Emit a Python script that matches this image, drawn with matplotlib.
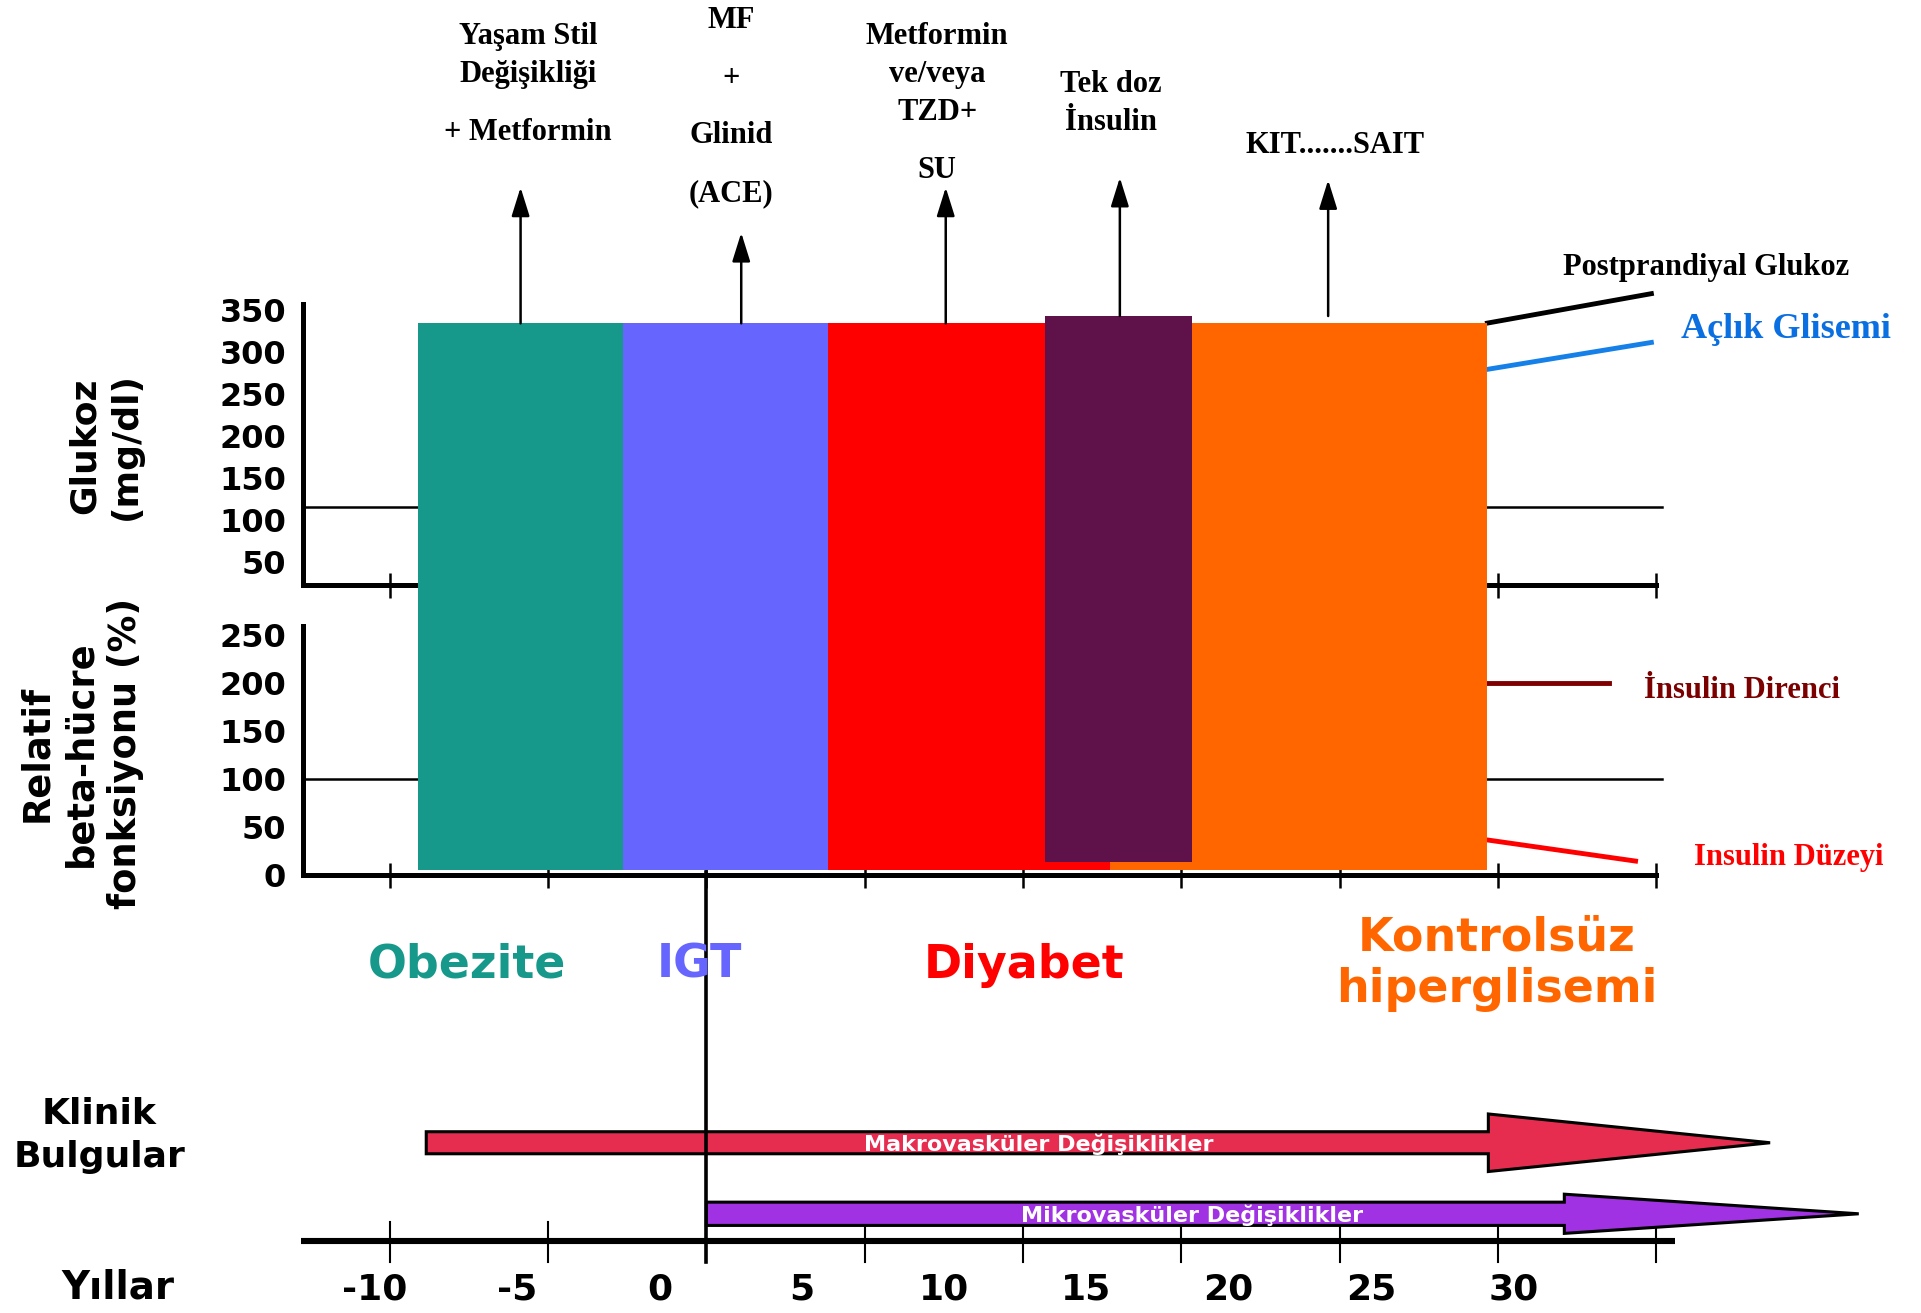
import matplotlib.pyplot as plt
from matplotlib.patches import FancyArrow

# ---- data (years on the time axis, values in panel units) ----
years = [-10, -5, 0, 5, 10, 15, 20, 25, 30]
year_labels = ["-10", "-5", "0", "5", "10", "15", "20", "25", "30"]
glucose_ticks = [50, 100, 150, 200, 250, 300, 350]
beta_ticks = [0, 50, 100, 150, 200, 250]

phase_labels = ["Obezite", "IGT", "Diyabet", "Kontrolsüz\nhiperglisemi"]
phase_colors = ["#16998A", "#6666FF", "#FF0000", "#FF6600"]
phase_start = [-9.1, -2.65, 3.85, 12.75]
phase_end = [-2.65, 3.85, 12.75, 24.67]
insulin_start, insulin_end = 10.7, 15.34
insulin_color = "#5E1249"

therapy_years = [-5.87, 1.10, 7.56, 13.06, 19.64]

ppg_years, ppg_values = [24.67, 29.85], [334, 369]
fpg_years, fpg_values = [24.67, 29.85], [279, 311]
ir_years, ir_values = [24.67, 28.5], [200, 200]
ins_years, ins_values = [24.67, 29.35], [36, 14]
normal_glucose = 115
normal_beta = 100

macro_start, macro_end = -8.85, 33.6
micro_start, micro_end = 0, 36.4
diagnosis_year = 0

# ---- layout helpers (layout units = 1568 x 1072 canvas) ----
W, H = 1568, 1072
YEAR10_PX, PX_PER_YEAR = 835, 25.84
LABEL10_PX, LABEL_PX_PER_YEAR = 770.6, 23.23


def fx(px):
    return px / W


def fy(py):
    return 1 - py / H


def year_px(yr):
    return YEAR10_PX + (yr - 10) * PX_PER_YEAR


SANS = "DejaVu Sans"
SERIF = "Liberation Serif"

fig = plt.figure(figsize=(19.21, 13.13), dpi=100)

PX0, PX1 = -12.75, 30.0


def panel(top, bottom, ylim, ticks, hline):
    a = fig.add_axes([fx(year_px(PX0)), fy(bottom),
                      fx(year_px(PX1)) - fx(year_px(PX0)), fy(top) - fy(bottom)])
    a.set_xlim(PX0, PX1)
    a.set_ylim(*ylim)
    a.patch.set_alpha(0)
    for s in ["top", "right"]:
        a.spines[s].set_visible(False)
    for s in ["left", "bottom"]:
        a.spines[s].set_linewidth(3.6)
    a.set_yticks(ticks)
    a.set_yticklabels([str(t) for t in ticks], fontsize=23,
                      fontweight="bold", family=SANS)
    a.tick_params(axis="y", length=0, pad=12)
    a.set_xticks(years)
    a.set_xticklabels([])
    a.tick_params(axis="x", direction="inout", length=18, width=1.8)
    a.plot([PX0, 30.2], [hline, hline], color="black", lw=1.8, clip_on=False)
    return a


ax_g = panel(248, 478, (22, 357), glucose_ticks, normal_glucose)
ax_g.plot(ppg_years, ppg_values, color="black", lw=3.5, clip_on=False)
ax_g.plot(fpg_years, fpg_values, color="#1580E8", lw=3.5, clip_on=False)

ax_b = panel(511, 714, (0, 259), beta_ticks, normal_beta)
ax_b.plot(ir_years, ir_values, color="#7F0000", lw=3.5, clip_on=False)
ax_b.plot(ins_years, ins_values, color="#FF0000", lw=3.5, clip_on=False)

# ---- main overlay axes: x in years, y in layout units ----
ax = fig.add_axes([0, 0, 1, 1])
ax.set_xlim((0 - YEAR10_PX) / PX_PER_YEAR + 10, (W - YEAR10_PX) / PX_PER_YEAR + 10)
ax.set_ylim(H, 0)
ax.patch.set_alpha(0)
ax.axis("off")

for s, e, c in zip(phase_start, phase_end, phase_colors):
    ax.bar(s, 446, width=e - s, bottom=264, align="edge", color=c, lw=0)
ax.bar(insulin_start, 446, width=insulin_end - insulin_start, bottom=258,
       align="edge", color=insulin_color, lw=0)

# therapy arrows
arrow_tops = [153, 190, 153, 145, 147]
arrow_bottoms = [264, 264, 264, 258, 258]
for yr, t, b in zip(therapy_years, arrow_tops, arrow_bottoms):
    ax.annotate("", xy=(yr, t), xytext=(yr, b),
                arrowprops=dict(arrowstyle="-|>,head_length=0.8,head_width=0.25",
                                lw=1.8, color="black", shrinkA=0, shrinkB=0,
                                mutation_scale=22))

therapy_lines = [
    [("Yaşam Stil", 431, 30), ("Değişikliği", 431, 61), ("+ Metformin", 431, 108)],
    [("MF", 597, 17), ("+", 597, 64), ("Glinid", 597, 111), ("(ACE)", 597, 158)],
    [("Metformin", 765, 30), ("ve/veya", 765, 61), ("TZD+", 765, 92), ("SU", 765, 139)],
    [("Tek doz", 907, 69), ("İnsulin", 907, 100)],
    [("KIT.......SAIT", 1090, 119)],
]
for group in therapy_lines:
    for txt, x, y in group:
        fig.text(fx(x), fy(y), txt, ha="center", va="center", fontsize=22,
                 fontweight="bold", family=SERIF)

# right-hand legend texts
fig.text(fx(1276), fy(218), "Postprandiyal Glukoz", ha="left", va="center",
         fontsize=22, fontweight="bold", family=SERIF)
fig.text(fx(1372), fy(269), "Açlık Glisemi", ha="left", va="center",
         fontsize=26, fontweight="bold", family=SERIF, color="#0A6FE0")
fig.text(fx(1342), fy(564), "İnsulin Direnci", ha="left", va="center",
         fontsize=22, fontweight="bold", family=SERIF, color="#7B0000")
fig.text(fx(1383), fy(700), "Insulin Düzeyi", ha="left", va="center",
         fontsize=22, fontweight="bold", family=SERIF, color="#FF0000")

# axis titles
fig.text(fx(86), fy(364), "Glukoz\n(mg/dl)", rotation=90, ha="center", va="center",
         fontsize=26, fontweight="bold", family=SANS, linespacing=1.25)
fig.text(fx(66), fy(615), "Relatif\nbeta-hücre\nfonksiyonu (%)", rotation=90,
         ha="center", va="center", fontsize=26.5, fontweight="bold", family=SANS,
         linespacing=1.25)

# phase labels
phase_label_pos = [(381, 788), (571, 788), (836, 788), (1222, 787)]
for lbl, c, (x, y) in zip(phase_labels, phase_colors, phase_label_pos):
    fig.text(fx(x), fy(y), lbl, ha="center", va="center", fontsize=33,
             fontweight="bold", family=SANS, color=c, linespacing=1.2)

# diagnosis line
ax.plot([diagnosis_year, diagnosis_year], [712, 1030], color="black", lw=2.6,
        zorder=5)

# clinical findings arrows
macro = FancyArrow(macro_start, 933, macro_end - macro_start, 0, width=18,
                   head_width=47, head_length=8.9, length_includes_head=True,
                   facecolor="#E62C4F", edgecolor="black", lw=2.2, zorder=3)
micro = FancyArrow(micro_start, 991, micro_end - micro_start, 0, width=19,
                   head_width=32, head_length=9.3, length_includes_head=True,
                   facecolor="#A032E3", edgecolor="black", lw=2.2, zorder=3)
ax.add_patch(macro)
ax.add_patch(micro)
fig.text(fx(848), fy(934), "Makrovasküler Değişiklikler", ha="center", va="center",
         fontsize=16, fontweight="bold", family=SANS, color="white", zorder=6)
fig.text(fx(973), fy(992), "Mikrovasküler Değişiklikler", ha="center", va="center",
         fontsize=16, fontweight="bold", family=SANS, color="white", zorder=6)

fig.text(fx(81), fy(927), "Klinik\nBulgular", ha="center", va="center",
         fontsize=26, fontweight="bold", family=SANS, linespacing=1.35)

# time axis
ax.plot([-12.8, 30.6], [1013, 1013], color="black", lw=4.4, solid_capstyle="butt")
for yr in years:
    ax.plot([yr, yr], [998, 1030], color="black", lw=1.5)

ax_lab = fig.add_axes([0, 0, 1, 1])
ax_lab.set_xlim(10 - LABEL10_PX / LABEL_PX_PER_YEAR,
                10 + (W - LABEL10_PX) / LABEL_PX_PER_YEAR)
ax_lab.set_ylim(H, 0)
ax_lab.axis("off")
for yr, lbl in zip(years, year_labels):
    ax_lab.text(yr, 1053, lbl, ha="center", va="center", fontsize=26,
                fontweight="bold", family=SANS)
fig.text(fx(96), fy(1051), "Yıllar", ha="center", va="center", fontsize=28,
         fontweight="bold", family=SANS)

fig.savefig("out.png", dpi=100)
